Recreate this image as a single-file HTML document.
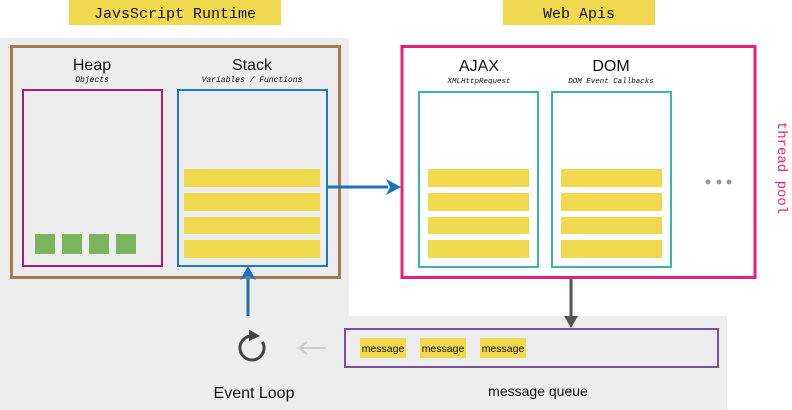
<!DOCTYPE html>
<html><head><meta charset="utf-8"><style>
html,body{margin:0;padding:0;background:#fff;}
svg{display:block;}
text{font-family:"Liberation Sans",sans-serif;fill:#111;}
.m{font-family:"Liberation Mono",monospace;}
</style></head><body>
<svg width="792" height="410" viewBox="0 0 792 410" xmlns="http://www.w3.org/2000/svg">
<rect x="0" y="38" width="349" height="372" fill="#ededed"/>
<rect x="349" y="316" width="378" height="94" fill="#ededed"/>
<rect x="69" y="0" width="212" height="25" fill="#f0d94e"/>
<text class="m" x="175" y="18" font-size="15" text-anchor="middle">JavsScript Runtime</text>
<rect x="503" y="0" width="152" height="25" fill="#f0d94e"/>
<text class="m" x="579" y="18" font-size="15" text-anchor="middle">Web Apis</text>
<rect x="11.5" y="46.5" width="328" height="231" fill="none" stroke="#a67c52" stroke-width="3"/>
<rect x="402" y="46.5" width="353" height="231" fill="#fff" stroke="#e91e7a" stroke-width="3"/>
<text x="92" y="70" font-size="16" text-anchor="middle">Heap</text>
<text class="m" x="92" y="82" font-size="8" font-style="italic" text-anchor="middle">Objects</text>
<text x="252" y="70" font-size="16" text-anchor="middle">Stack</text>
<text class="m" x="252" y="82" font-size="8" font-style="italic" text-anchor="middle">Variables / Functions</text>
<rect x="23" y="90" width="139" height="176" fill="none" stroke="#ae1a6c" stroke-width="2"/>
<rect x="178" y="90" width="149" height="176" fill="none" stroke="#1a7bc4" stroke-width="2"/>
<g fill="#7ab55c"><rect x="35" y="234" width="20" height="20"/><rect x="62" y="234" width="20" height="20"/><rect x="89" y="234" width="20" height="20"/><rect x="116" y="234" width="20" height="20"/></g>
<g fill="#f0d94e">
<rect x="184" y="169" width="136" height="18"/><rect x="184" y="193" width="136" height="18"/><rect x="184" y="217" width="136" height="17"/><rect x="184" y="240" width="136" height="18"/>
<rect x="428" y="169" width="101" height="18"/><rect x="428" y="193" width="101" height="18"/><rect x="428" y="217" width="101" height="17"/><rect x="428" y="240" width="101" height="18"/>
<rect x="561" y="169" width="101" height="18"/><rect x="561" y="193" width="101" height="18"/><rect x="561" y="217" width="101" height="17"/><rect x="561" y="240" width="101" height="18"/>
</g>
<line x1="327" y1="187" x2="388" y2="187" stroke="#1a73b8" stroke-width="3"/>
<polygon points="386,179 401,187 386,195 390,187" fill="#1a73b8"/>
<line x1="248" y1="316" x2="248" y2="278" stroke="#1a73b8" stroke-width="3"/>
<polygon points="240,280 248,266 256,280 248,276" fill="#1a73b8"/>
<text x="479" y="71" font-size="16" text-anchor="middle">AJAX</text>
<text class="m" x="479" y="83" font-size="7.5" font-style="italic" text-anchor="middle">XMLHttpRequest</text>
<text x="611" y="71" font-size="16" text-anchor="middle">DOM</text>
<text class="m" x="611" y="83" font-size="7.5" font-style="italic" text-anchor="middle">DOM Event Callbacks</text>
<rect x="419" y="92" width="119" height="175" fill="none" stroke="#3ab5a8" stroke-width="2"/>
<rect x="552" y="92" width="119" height="175" fill="none" stroke="#3ab5a8" stroke-width="2"/>
<g fill="#999"><circle cx="708" cy="182" r="2.5"/><circle cx="719" cy="182" r="2.5"/><circle cx="729" cy="182" r="2.5"/></g>
<text class="m" x="0" y="0" font-size="14" style="fill:#e91e7a" text-anchor="middle" transform="translate(778 168) rotate(90)">thread pool</text>
<line x1="571" y1="279" x2="571" y2="318" stroke="#555" stroke-width="3"/>
<polygon points="564,316 571,328 578,316" fill="#555"/>
<rect x="345" y="329" width="373" height="38" fill="none" stroke="#7b4fa0" stroke-width="2"/>
<g fill="#f0d94e"><rect x="360" y="338" width="46" height="20"/><rect x="420" y="338" width="46" height="20"/><rect x="480" y="338" width="46" height="20"/></g>
<g font-size="10.5"><text x="383" y="352" text-anchor="middle">message</text><text x="443" y="352" text-anchor="middle">message</text><text x="503" y="352" text-anchor="middle">message</text></g>
<text x="538" y="396" font-size="14" text-anchor="middle">message queue</text>
<line x1="300" y1="348" x2="326" y2="348" stroke="#ccc" stroke-width="2"/>
<polyline points="307,342 299,348 307,354" fill="none" stroke="#ccc" stroke-width="2"/>
<path d="M262.4,342 A12,12 0 1 1 251,336" fill="none" stroke="#444" stroke-width="3"/>
<polygon points="249,329.5 260,336 249,341" fill="#444"/>
<text x="254" y="398" font-size="16" text-anchor="middle">Event Loop</text>
</svg>
</body></html>
